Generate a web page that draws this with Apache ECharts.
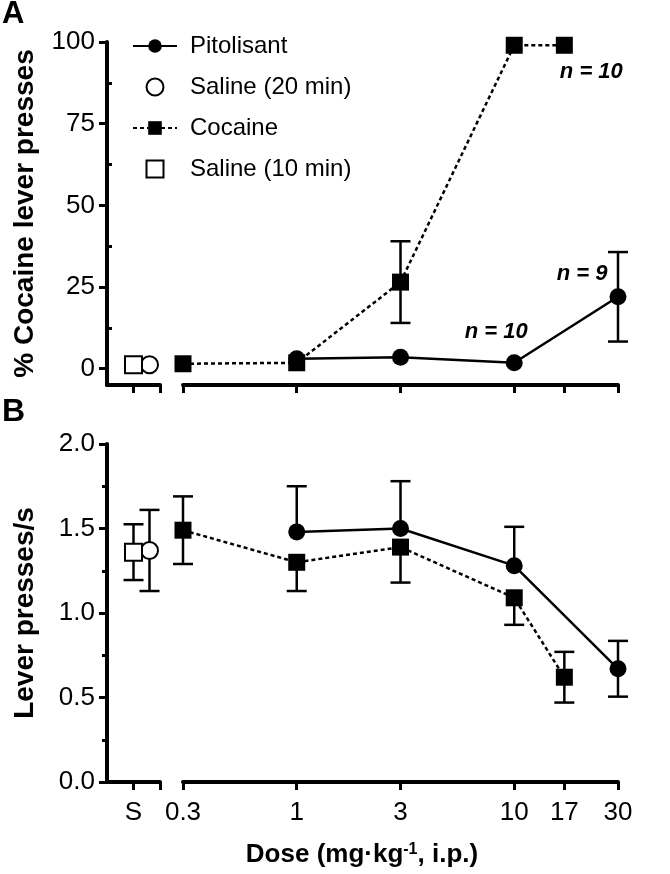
<!DOCTYPE html>
<html><head><meta charset="utf-8">
<script src="https://cdn.jsdelivr.net/npm/echarts@6/dist/echarts.min.js"></script>
<style>html,body{margin:0;padding:0;background:#fff}#c{width:670px;height:874px}</style>
</head><body><div id="c"></div>
<script>
// ---------- data ----------
const doseTicks = [0.3, 1, 3, 10, 17, 30];
const salineTick = 'S';
const salinePos = 0.5;
const yTicksA = [0, 25, 50, 75, 100];
const yMinorA = [12.5, 37.5, 62.5, 87.5];

// Panel A: % cocaine lever presses
const pitDosesA = [1, 3, 10, 30];
const pitMeanA  = [3, 3.5, 1.8, 22];
const pitSemA   = [0, 0, 0, 13.7];
const cocDosesA = [0.3, 1, 3, 10, 17];
const cocMeanA  = [1.5, 1.8, 26.5, 99, 99];
const cocSemA   = [0, 0, 12.5, 0, 0];
const sal10A = [1.2, 0];
const sal20A = [1.2, 0];
const nLabelsA = { pit: {10: 'n = 10', 30: 'n = 9'}, coc: {17: 'n = 10'} };

// Panel B: lever presses/s
const pitDosesB = [1, 3, 10, 30];
const pitMeanB  = [1.48, 1.50, 1.28, 0.67];
const pitSemB   = [0.27, 0.28, 0.23, 0.165];
const pitErrDirB = [1, 1, 1, 0];      // 1 = upper bar only, -1 = lower only, 0 = both
const cocDosesB = [0.3, 1, 3, 10, 17];
const cocMeanB  = [1.49, 1.30, 1.39, 1.09, 0.62];
const cocSemB   = [0.20, 0.17, 0.21, 0.16, 0.15];
const cocErrDirB = [0, -1, -1, -1, 0];
const sal10B = [1.36, 0.165];
const sal20B = [1.37, 0.24];

// ---------- chart ----------
const FONT = 'Liberation Sans, Arial, sans-serif';
const BLACK = '#000';
const chart = echarts.init(document.getElementById('c'), null, {renderer: 'canvas'});

const circleOffset = 16;
const nOffsets = { pit: {10: [-18, -31], 30: [-36, -23]}, coc: {17: [27, 27]} };

function pts(doses, means, labels, offsets) {
  return doses.map((d, i) => {
    const item = { value: [d, means[i]] };
    if (labels && labels[d]) {
      item.label = { show: true, formatter: labels[d], position: 'inside',
        offset: offsets[d], color: BLACK, fontFamily: FONT, fontSize: 22,
        fontWeight: 'bold', fontStyle: 'italic' };
    }
    return item;
  });
}
function errs(doses, means, sems, dirs) {
  return doses.map((d, i) => [d, means[i], sems[i], dirs ? dirs[i] : 0]);
}

function errRender(offset) {
  return function (params, api) {
    const x = api.value(0), y = api.value(1), e = api.value(2), dir = api.value(3);
    if (!e) return null;
    const hi = dir < 0 ? y : y + e;
    const lo = dir > 0 ? y : y - e;
    const top = api.coord([x, hi]), bot = api.coord([x, lo]);
    const cx = top[0] + offset, hw = 10;
    const style = { stroke: BLACK, lineWidth: 2.5 };
    const children = [{ type: 'line', shape: { x1: cx, y1: top[1], x2: cx, y2: bot[1] }, style }];
    if (dir >= 0) children.push({ type: 'line', shape: { x1: cx - hw, y1: top[1], x2: cx + hw, y2: top[1] }, style });
    if (dir <= 0) children.push({ type: 'line', shape: { x1: cx - hw, y1: bot[1], x2: cx + hw, y2: bot[1] }, style });
    return { type: 'group', children };
  };
}

const axisLine = { show: true, onZero: false, lineStyle: { color: BLACK, width: 4 } };
const tickStyle = { color: BLACK, width: 3 };
const labelStyle = { color: BLACK, fontFamily: FONT, fontSize: 26 };

function xLeft(gi, showLabel) {
  return { gridIndex: gi, type: 'value', min: 0, max: 1, axisLine,
    axisTick: { show: true, customValues: [salinePos, 1], length: 8, lineStyle: tickStyle },
    axisLabel: Object.assign({ show: showLabel, customValues: [salinePos], margin: 18,
      formatter: () => salineTick }, labelStyle),
    splitLine: { show: false } };
}
function xRight(gi, showLabel) {
  return { gridIndex: gi, type: 'log', logBase: 10, min: 0.3, max: 30, axisLine,
    axisTick: { show: true, customValues: doseTicks, length: 8, lineStyle: tickStyle },
    axisLabel: Object.assign({ show: showLabel, customValues: doseTicks, margin: 18,
      formatter: v => String(+(+v).toPrecision(3)) }, labelStyle),
    splitLine: { show: false }, minorSplitLine: { show: false } };
}
const nameStyle = { color: BLACK, fontFamily: FONT, fontSize: 28, fontWeight: 'bold' };

const squareIcon = 'path://M0,0H10V10H0Z';
const openStyle = { color: '#fff', borderColor: BLACK, borderWidth: 2, opacity: 1 };

const option = {
  backgroundColor: '#fff',
  animation: false,
  grid: [
    { left: 107, top: 42, width: 53, height: 343 },
    { left: 183, top: 42, width: 435, height: 343 },
    { left: 107, top: 444, width: 53, height: 338 },
    { left: 183, top: 444, width: 435, height: 338 }
  ],
  xAxis: [ xLeft(0, false), xRight(1, false), xLeft(2, true), xRight(3, true) ],
  yAxis: [
    { gridIndex: 0, type: 'value', min: -5, max: 100, axisLine,
      axisTick: { show: true, customValues: yTicksA, length: 8, lineStyle: tickStyle },
      axisLabel: Object.assign({ customValues: yTicksA, margin: 12 }, labelStyle),
      splitLine: { show: false },
      name: '% Cocaine lever presses', nameLocation: 'middle', nameGap: 68, nameTextStyle: nameStyle },
    { gridIndex: 1, type: 'value', min: -5, max: 100, show: false },
    { gridIndex: 0, type: 'value', min: -5, max: 100, axisLine: { show: false },
      axisTick: { show: true, customValues: yMinorA, length: 5, lineStyle: tickStyle },
      axisLabel: { show: false }, splitLine: { show: false } },
    { gridIndex: 2, type: 'value', min: 0, max: 2, interval: 0.5, axisLine,
      axisTick: { show: true, length: 8, lineStyle: tickStyle },
      minorTick: { show: true, splitNumber: 2, length: 5, lineStyle: tickStyle },
      axisLabel: Object.assign({ margin: 12, formatter: v => v.toFixed(1) }, labelStyle),
      splitLine: { show: false }, minorSplitLine: { show: false },
      name: 'Lever presses/s', nameLocation: 'middle', nameGap: 68, nameTextStyle: nameStyle },
    { gridIndex: 3, type: 'value', min: 0, max: 2, show: false }
  ],
  legend: {
    orient: 'vertical', left: 127, top: 29, itemWidth: 44, itemHeight: 17, itemGap: 17,
    data: ['Pitolisant', 'Saline (20 min)', 'Cocaine', { name: 'Saline (10 min)', icon: squareIcon }],
    textStyle: { color: BLACK, fontFamily: FONT, fontSize: 24, padding: [0, 0, 0, 8] },
    symbolKeepAspect: true
  },
  graphic: [
    { type: 'text', left: 2, top: -1, style: { text: 'A', font: 'bold 31px ' + FONT, fill: BLACK } },
    { type: 'text', left: 2, top: 396, style: { text: 'B', font: 'bold 32px ' + FONT, fill: BLACK } },
    { type: 'text', x: 362, y: 855, style: {
        text: '{b|Dose (mg·kg}{s|-1}{b|, i.p.)}', align: 'center', verticalAlign: 'middle',
        rich: { b: { fontFamily: FONT, fontSize: 26, fontWeight: 'bold', fill: BLACK },
                s: { fontFamily: FONT, fontSize: 16, fontWeight: 'bold', fill: BLACK, verticalAlign: 'top', padding: [0,0,10,0] } } } }
  ],
  series: [
    // error bars (below markers)
    { type: 'custom', xAxisIndex: 1, yAxisIndex: 1, renderItem: errRender(0), data: errs(pitDosesA, pitMeanA, pitSemA), z: 1 },
    { type: 'custom', xAxisIndex: 1, yAxisIndex: 1, renderItem: errRender(0), data: errs(cocDosesA, cocMeanA, cocSemA), z: 1 },
    { type: 'custom', xAxisIndex: 3, yAxisIndex: 4, renderItem: errRender(0), data: errs(pitDosesB, pitMeanB, pitSemB, pitErrDirB), z: 1 },
    { type: 'custom', xAxisIndex: 3, yAxisIndex: 4, renderItem: errRender(0), data: errs(cocDosesB, cocMeanB, cocSemB, cocErrDirB), z: 1 },
    { type: 'custom', xAxisIndex: 2, yAxisIndex: 3, renderItem: errRender(0), data: [[salinePos, sal10B[0], sal10B[1], 0]], z: 1 },
    { type: 'custom', xAxisIndex: 2, yAxisIndex: 3, renderItem: errRender(circleOffset), data: [[salinePos, sal20B[0], sal20B[1], 0]], z: 1 },

    // Panel A
    { name: 'Pitolisant', type: 'line', xAxisIndex: 1, yAxisIndex: 1, z: 3,
      data: pts(pitDosesA, pitMeanA, nLabelsA.pit, nOffsets.pit),
      symbol: 'circle', symbolSize: 17, itemStyle: { color: BLACK },
      lineStyle: { color: BLACK, width: 2.5 } },
    { name: 'Cocaine', type: 'line', xAxisIndex: 1, yAxisIndex: 1, z: 4,
      data: pts(cocDosesA, cocMeanA, nLabelsA.coc, nOffsets.coc),
      symbol: 'rect', symbolSize: 17, itemStyle: { color: BLACK },
      lineStyle: { color: BLACK, width: 2.5, type: [4, 3] } },
    { name: 'Saline (20 min)', type: 'scatter', xAxisIndex: 0, yAxisIndex: 0, z: 3,
      data: [[salinePos, sal20A[0]]], symbol: 'circle', symbolSize: 17, symbolOffset: [circleOffset, 0],
      itemStyle: openStyle },
    { name: 'Saline (10 min)', type: 'scatter', xAxisIndex: 0, yAxisIndex: 0, z: 4,
      data: [[salinePos, sal10A[0]]], symbol: 'rect', symbolSize: 17,
      itemStyle: openStyle },

    // Panel B
    { name: 'Pitolisant', type: 'line', xAxisIndex: 3, yAxisIndex: 4, z: 3,
      data: pts(pitDosesB, pitMeanB), symbol: 'circle', symbolSize: 17,
      itemStyle: { color: BLACK }, lineStyle: { color: BLACK, width: 2.5 } },
    { name: 'Cocaine', type: 'line', xAxisIndex: 3, yAxisIndex: 4, z: 4,
      data: pts(cocDosesB, cocMeanB), symbol: 'rect', symbolSize: 17,
      itemStyle: { color: BLACK }, lineStyle: { color: BLACK, width: 2.5, type: [4, 3] } },
    { name: 'Saline (20 min)', type: 'scatter', xAxisIndex: 2, yAxisIndex: 3, z: 3,
      data: [[salinePos, sal20B[0]]], symbol: 'circle', symbolSize: 17, symbolOffset: [circleOffset, 0],
      itemStyle: openStyle },
    { name: 'Saline (10 min)', type: 'scatter', xAxisIndex: 2, yAxisIndex: 3, z: 4,
      data: [[salinePos, sal10B[0]]], symbol: 'rect', symbolSize: 17,
      itemStyle: openStyle }
  ]
};
chart.setOption(option);
</script>
</body></html>
